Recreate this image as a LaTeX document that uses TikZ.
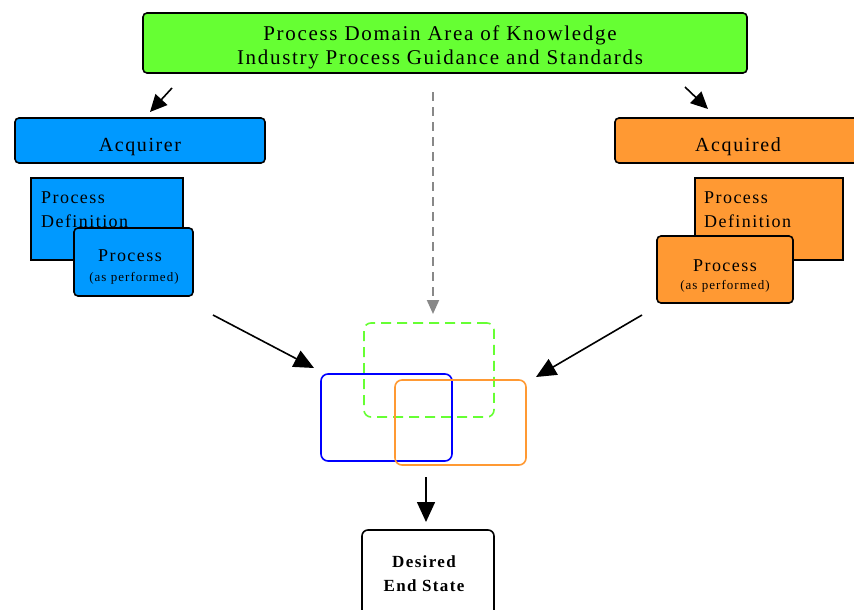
\documentclass[tikz,border=0pt]{standalone}
\usepackage{fontspec}
\setmainfont{Liberation Serif}[LetterSpace=8]
\usetikzlibrary{arrows.meta}
\definecolor{kgreen}{HTML}{66FF33}
\definecolor{kblue}{HTML}{0099FF}
\definecolor{korange}{HTML}{FF9933}
\definecolor{kgrey}{HTML}{888888}
\begin{document}
\begin{tikzpicture}[x=1pt,y=-1pt,
  box/.style={rectangle,rounded corners=4pt,draw=black,line width=1.6pt,inner sep=0pt},
  defbox/.style={rectangle,draw=black,line width=1.6pt,inner sep=0pt},
  venn/.style={rectangle,rounded corners=7pt,line width=1.6pt,inner sep=0pt},
  bigarrow/.style={line width=1.6pt,-{Triangle[length=20pt,width=18pt]}},
  smallarrow/.style={line width=1.6pt,-{Triangle[length=17pt,width=16pt]}},
  lbl/.style={font=\fontsize{18}{24}\selectfont,align=center,inner sep=0pt},
  sub/.style={font=\fontsize{13}{14}\selectfont,inner sep=0pt}]
\useasboundingbox (0,0) rectangle (854,610);
\clip (0,0) rectangle (854,610);

% knowledge area at the top
\node[box,fill=kgreen,minimum width=604pt,minimum height=60pt] (domain) at (445,43) {};
\node[lbl,font=\fontsize{21}{24}\selectfont] (domaintxt) at (440,47)
  {Process Domain Area of Knowledge\\Industry Process Guidance and Standards};

% acquirer side
\node[box,fill=kblue,minimum width=250pt,minimum height=45pt] (acquirer) at (140,140.5) {};
\node[lbl,font=\fontsize{20}{24}\selectfont] (acquirertxt) at (140,147) {Acquirer};
\node[defbox,fill=kblue,minimum width=152pt,minimum height=82pt] (adef) at (107,219) {};
\node[lbl,align=left,anchor=north west] (adeftxt) at (41,192) {Process\\Definition};
\node[box,fill=kblue,minimum width=119pt,minimum height=68pt] (aproc) at (133.5,262) {};
\node[lbl] (aproctxt) at (130,256) {Process};
\node[sub] (aprocsub) at (134,278) {(as performed)};

% acquired side
\node[box,fill=korange,minimum width=246pt,minimum height=45pt] (acquired) at (738,140.5) {};
\node[lbl,font=\fontsize{20}{24}\selectfont] (acquiredtxt) at (738,147) {Acquired};
\node[defbox,fill=korange,minimum width=148pt,minimum height=82pt] (qdef) at (769,219) {};
\node[lbl,align=left,anchor=north west] (qdeftxt) at (704,192) {Process\\Definition};
\node[box,fill=korange,minimum width=136pt,minimum height=67pt] (qproc) at (725,269.5) {};
\node[lbl] (qproctxt) at (725,266) {Process};
\node[sub] (qprocsub) at (725,286) {(as performed)};

% overlapping areas
\node[venn,draw=kgreen,dash pattern=on 10pt off 6pt,minimum width=130pt,minimum height=94pt] (vgreen) at (429,370) {};
\node[venn,draw=blue,minimum width=131pt,minimum height=87pt] (vblue) at (386.5,417.5) {};
\node[venn,draw=korange,minimum width=131pt,minimum height=85pt] (vorange) at (460.5,422.5) {};

% result
\node[box,fill=white,rounded corners=6pt,minimum width=132pt,minimum height=92pt] (endstate) at (428,576) {};
\node[lbl,font=\bfseries\fontsize{17}{24}\selectfont] (endtxt) at (424,574) {Desired\\End State};

% connectors
\coordinate (tl0) at (172,88);  \coordinate (tl1) at (150,112);
\coordinate (tr0) at (685,87);  \coordinate (tr1) at (708,109);
\coordinate (g0) at (433,92);   \coordinate (g1) at (433,314);
\coordinate (l0) at (213,315);  \coordinate (l1) at (314,368);
\coordinate (r0) at (642,315);  \coordinate (r1) at (536,377);
\coordinate (d0) at (426,477);  \coordinate (d1) at (426,522);
\draw[smallarrow] (tl0) -- (tl1);
\draw[smallarrow] (tr0) -- (tr1);
\draw[kgrey,line width=2pt,dash pattern=on 9pt off 6pt,-{Triangle[length=14pt,width=12pt]}] (g0) -- (g1);
\draw[bigarrow] (l0) -- (l1);
\draw[bigarrow] (r0) -- (r1);
\draw[bigarrow] (d0) -- (d1);
\end{tikzpicture}
\end{document}
